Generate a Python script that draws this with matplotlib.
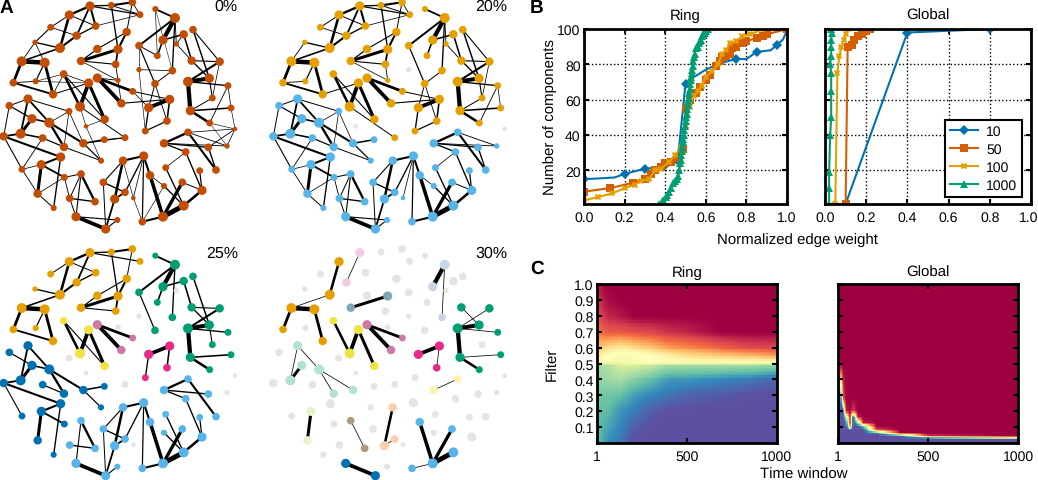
import numpy as np
import matplotlib

matplotlib.use("Agg")
import matplotlib.pyplot as plt
from matplotlib.transforms import ScaledTranslation

plt.rcParams["font.family"] = ["Liberation Sans", "DejaVu Sans"]
plt.rcParams["font.size"] = 9.9
plt.rcParams["text.hinting"] = "no_hinting"
plt.rcParams["text.hinting_factor"] = 1

W, H = 1038, 481

# ── network: one layout shared by all four panels (pixels of the 0% panel) ──
NODE_X = [270, 334, 397, 420, 208, 287, 152, 230, 380, 105, 180, 292, 354, 65, 134, 243, 347, 40, 107, 159,
          191, 266, 292, 354, 398, 364, 240, 314, 258, 375, 313, 250, 192, 303, 207, 148, 96, 84, 28, 62,
          11, 128, 182, 66, 124, 193, 243, 113, 209, 285, 161, 228, 317, 352, 310, 344, 375, 369, 431, 450,
          400, 427, 489, 492, 497, 547, 551, 606, 599, 648, 557, 492, 564, 625, 681, 705, 629, 571, 693, 684,
          637, 564, 628, 659, 575, 529, 551, 579, 489, 525, 466, 417, 472, 417, 517, 465, 509, 446, 501, 436]
NODE_Y = [21, 19, 10, 47, 48, 81, 85, 110, 99, 130, 147, 150, 151, 187, 191, 186, 196, 251, 247, 286,
          225, 252, 237, 244, 277, 313, 323, 361, 382, 416, 422, 433, 444, 485, 337, 371, 359, 300, 320, 404,
          412, 417, 474, 511, 497, 535, 525, 584, 598, 608, 627, 653, 690, 663, 550, 600, 580, 485, 471, 529,
          597, 668, 653, 561, 506, 550, 620, 574, 515, 513, 459, 433, 400, 445, 441, 390, 372, 335, 327, 260,
          297, 248, 238, 188, 185, 135, 106, 92, 123, 57, 30, 140, 170, 212, 215, 254, 301, 326, 366, 396]
NODE_R = [12, 9, 10, 9, 12, 10, 9, 11, 11, 7, 13, 11, 12, 13, 13, 11, 10, 10, 8, 11,
          10, 12, 12, 7, 9, 11, 13, 11, 6, 9, 9, 11, 11, 8, 9, 13, 12, 12, 10, 13,
          11, 10, 12, 9, 12, 9, 10, 11, 10, 10, 8, 12, 12, 8, 10, 12, 10, 11, 12, 11,
          6, 10, 13, 8, 9, 10, 13, 12, 9, 10, 10, 11, 10, 10, 7, 6, 9, 12, 9, 9,
          9, 13, 12, 11, 11, 7, 11, 10, 12, 13, 8, 10, 9, 7, 10, 10, 12, 12, 10, 9]

# edges by the highest threshold they survive: (node, node, width in px)
EDGES_30 = [(4, 10, 2.0), (10, 13, 1.2), (13, 14, 3.6), (13, 17, 2.2), (14, 19, 2.2), (0, 7, 1.4),
            (12, 15, 2.4), (20, 26, 2.0), (26, 21, 3.0), (21, 27, 2.4), (22, 24, 2.2), (22, 25, 3.0),
            (89, 88, 3.4), (89, 94, 1.0), (84, 82, 1.0), (83, 81, 1.6), (81, 82, 3.2), (81, 79, 1.0),
            (81, 77, 3.4), (77, 78, 1.2), (77, 76, 2.0), (97, 96, 3.0), (96, 98, 1.2), (37, 39, 1.4),
            (36, 39, 2.4), (37, 35, 1.4), (35, 32, 1.8), (35, 31, 1.6), (72, 71, 1.8), (44, 47, 2.4),
            (46, 49, 1.8), (57, 55, 2.0), (55, 56, 1.4), (59, 62, 2.8), (62, 65, 2.6), (62, 66, 4.0),
            (62, 61, 1.6), (51, 52, 3.0)]
EDGES_25 = [(0, 4, 1.8), (0, 1, 1.0), (0, 3, 0.9), (4, 5, 0.7), (4, 6, 0.7), (5, 7, 1.0), (7, 10, 1.6),
            (9, 10, 1.0), (14, 18, 0.9), (17, 19, 1.4), (15, 11, 0.9), (15, 16, 0.8), (11, 8, 0.8),
            (12, 8, 1.6), (12, 16, 1.4), (1, 12, 1.0), (1, 2, 1.6), (2, 8, 0.7), (20, 27, 0.8), (97, 99, 1.0),
            (89, 90, 1.4), (89, 91, 1.5), (88, 86, 1.2), (88, 92, 1.2), (86, 84, 1.2), (87, 82, 1.1),
            (84, 83, 0.8), (82, 80, 0.8), (91, 95, 0.9), (36, 35, 1.2), (38, 36, 0.9), (39, 40, 1.4),
            (31, 30, 1.2), (31, 33, 0.9), (40, 42, 1.6), (40, 43, 0.8), (41, 32, 0.9), (44, 42, 1.6),
            (44, 45, 1.4), (42, 50, 1.0), (57, 58, 1.6), (58, 59, 1.6), (58, 61, 0.9), (58, 56, 1.0),
            (57, 54, 0.8), (54, 56, 1.0), (54, 52, 0.7), (55, 52, 1.4), (52, 53, 0.8), (46, 51, 0.8),
            (48, 49, 1.0), (63, 66, 1.0), (64, 66, 1.0), (66, 67, 2.0), (67, 68, 0.9), (67, 70, 1.0),
            (71, 73, 1.0), (71, 70, 1.0), (72, 69, 1.6)]
EDGES_20 = [(0, 5, 1.6), (1, 3, 0.7), (2, 3, 0.6), (5, 3, 0.5), (6, 7, 0.6), (9, 13, 0.6), (17, 18, 0.6),
            (19, 21, 0.7), (15, 23, 0.5), (16, 23, 0.6), (26, 29, 0.7), (24, 96, 0.7), (25, 96, 0.8),
            (95, 97, 0.7), (95, 98, 0.6), (94, 95, 0.7), (98, 99, 0.9), (89, 85, 0.6), (85, 84, 0.6),
            (87, 83, 0.8), (83, 80, 0.5), (77, 80, 0.7), (76, 79, 0.6), (79, 78, 0.5), (37, 38, 0.7),
            (38, 40, 0.7), (39, 41, 1.2), (41, 43, 0.6), (43, 44, 0.5), (43, 47, 0.6), (37, 34, 0.7),
            (35, 34, 0.5), (34, 32, 0.5), (34, 31, 0.5), (32, 33, 0.7), (45, 46, 0.7), (45, 48, 0.6),
            (46, 48, 0.7), (47, 50, 0.7), (47, 45, 0.5), (48, 51, 0.7), (51, 53, 0.8), (58, 60, 0.5),
            (59, 63, 0.5), (64, 70, 0.5), (65, 67, 0.7), (71, 74, 0.6), (72, 74, 0.6), (73, 69, 1.0)]
EDGES_0 = [(6, 9, 0.8), (9, 14, 0.5), (18, 20, 0.4), (18, 21, 0.4), (19, 20, 0.5), (20, 21, 0.5),
           (22, 23, 0.6), (23, 25, 0.5), (26, 28, 0.4), (28, 27, 0.4), (28, 33, 0.4), (29, 30, 0.6),
           (31, 29, 0.7), (91, 92, 0.7), (91, 93, 0.4), (93, 94, 0.5), (93, 99, 0.4), (90, 92, 0.4),
           (90, 94, 0.3), (63, 61, 0.4), (60, 61, 0.4), (57, 60, 0.4), (75, 72, 0.5), (75, 73, 0.6),
           (75, 74, 0.5), (76, 75, 0.4), (74, 76, 0.3), (75, 78, 0.4), (24, 97, 0.5), (85, 86, 0.6)]

# edges the 30% panel draws thinner than the others
THIN_AT_30 = [(0, 7), (89, 94), (84, 82), (83, 81), (81, 79), (77, 78), (96, 98), (37, 39), (37, 35),
              (35, 32), (35, 31), (72, 71), (46, 49), (55, 56), (62, 61), (10, 13)]

PANEL_NAMES = ["0%", "20%", "25%", "30%"]
PANEL_DX = [0, 269.7, 0, 269.7]
PANEL_DY = [0, 0, 246.7, 246.7]
PANEL_EDGES = [EDGES_30 + EDGES_25 + EDGES_20 + EDGES_0,
               EDGES_30 + EDGES_25 + EDGES_20,
               EDGES_30 + EDGES_25,
               [(a, b, 0.5 if (a, b) in THIN_AT_30 else w) for a, b, w in EDGES_30]]

# component colours: colour -> one node of each component that wears it
PANEL_COLOURS = [
    {"#C24E05": [0]},
    {"#E69F00": [0, 89], "#56B4E9": [37, 58, 71]},
    {"#E69F00": [0], "#F0E442": [20], "#CC79A7": [22], "#E7298A": [97], "#009E73": [89, 81],
     "#0072B2": [37, 44], "#56B4E9": [58, 71]},
    {"#E69F00": [13], "#F4C9E4": [0], "#7FA6B6": [12], "#F0E442": [21], "#CC79A7": [22],
     "#CBD5E8": [89], "#009E73": [81], "#E7298A": [97], "#B3E2CD": [35], "#FFF2AE": [72],
     "#E6F5C9": [44], "#B09A7E": [46], "#FDCDAC": [55], "#56B4E9": [62], "#0072B2": [51]},
]
ISOLATED = "#E4E4E4"

# ── panel B ─────────────────────────────────────────────────────────────────
SERIES_NAMES = ["10", "50", "100", "1000"]
SERIES_COLOURS = ["#0072B2", "#D55E00", "#E69F00", "#009E73"]
SERIES_MARKERS = ["D", "s", "X", "^"]

RING_10_X = [0, .15, .2, .3, .35, .4, .46, .47, .5, .53, .6, .68, .75, .8, .85, .92, .95, .98, 1]
RING_10_Y = [15, 16, 18, 21, 21.5, 23, 26, 35, 69, 72, 77, 81, 83, 83, 87, 88, 91, 94, 99]
RING_10_MARK = [0, 2, 3, 5, 6, 8, 12, 14, 16]
RING_50_X = [0, .13, .24, .3, .33, .35, .38, .4, .43, .47, .49, .5, .52, .55, .57, .6, .62, .65, .67, .68, .7, .72, .73, .75, .78, .8, .85, .88, .9, 1]
RING_50_Y = [8, 10, 13, 15, 18, 20, 22, 24, 25, 27, 32, 55, 60, 64, 67, 71, 74, 79, 82, 84, 85, 86, 89, 90, 92, 93, 95, 96, 97, 100]
RING_100_X = [0, .07, .14, .2, .25, .28, .32, .35, .38, .42, .45, .48, .5, .52, .54, .56, .58, .6, .63, .66, .68, .7, .72, .75, .78, .82, .88]
RING_100_Y = [3, 5, 7, 10, 12, 14, 15, 20, 21, 25, 29, 33, 45, 56, 62, 65, 68, 73, 76, 80, 86, 88, 92, 93, 96, 97, 100]
RING_1000_X = [.37, .385, .39, .405, .41, .42, .43, .44, .45, .46, .465, .47, .475, .478, .48, .483, .485, .488, .49, .493,
               .495, .498, .5, .503, .505, .508, .51, .513, .515, .518, .52, .523, .525, .528, .53, .533, .535, .538, .54,
               .545, .55, .555, .56, .565, .57, .575, .58, .585, .59, .595, .6, .605, .61]
RING_1000_Y = [1, 2, 3, 5, 6, 8, 10, 13, 14, 15, 17, 20, 24, 26, 29, 31, 33, 36, 38, 40,
               43, 45, 48, 50, 52, 55, 57, 59, 61, 64, 66, 69, 71, 73, 75, 77, 79, 82, 84,
               86, 89, 90, 90, 92, 93, 94, 96, 97, 98, 98, 99, 100, 100]

GLOBAL_10_X = [0, .1, .4, .8, 1]
GLOBAL_10_Y = [1, 1, 98, 100, 100]
GLOBAL_10_MARK = [2, 3]
GLOBAL_50_X = [.1, .11, .13, .14, .16, .18, .2, .22]
GLOBAL_50_Y = [1, 90, 91, 94, 96, 97, 99, 100]
GLOBAL_100_X = [.05, .06, .07, .08, .09, .1, .11]
GLOBAL_100_Y = [1, 75, 85, 90, 94, 97, 100]
GLOBAL_1000_X = [.02, .02, .02, .025, .03, .03, .03, .025, .03, .03, .03, .035, .03]
GLOBAL_1000_Y = [1, 10, 19, 40, 50, 65, 75, 80, 85, 90, 94, 98, 100]

# ── panel C: fraction of components read by colour ──────────────────────────
RING_T = [1, 15, 60, 130, 200, 300, 400, 500, 700, 850, 1000]
RING_F = [0, .1, .2, .3, .4, .49, .51, .55, .6, .7, .8, .9, 1]
RING_VALUES = [
    [.20, .18, .11, .07, 0, 0, 0, 0, 0, 0, 0],
    [.20, .19, .15, .10, .03, 0, 0, 0, 0, 0, 0],
    [.20, .20, .19, .12, .09, .03, 0, 0, 0, 0, 0],
    [.22, .22, .22, .20, .14, .10, .07, .04, .02, 0, 0],
    [.25, .27, .28, .30, .25, .20, .13, .13, .10, .08, .04],
    [.26, .30, .32, .38, .38, .35, .30, .30, .30, .30, .28],
    [.60, .52, .46, .45, .48, .50, .50, .50, .50, .50, .50],
    [.65, .55, .50, .46, .47, .50, .55, .60, .65, .68, .72],
    [.72, .65, .60, .56, .60, .65, .72, .75, .82, .87, .88],
    [.76, .80, .84, .84, .86, .88, .92, .94, 1, 1, 1],
    [.78, .88, .94, .96, 1, 1, 1, 1, 1, 1, 1],
    [.80, .93, .98, 1, 1, 1, 1, 1, 1, 1, 1],
    [.82, .97, 1, 1, 1, 1, 1, 1, 1, 1, 1],
]
GLOBAL_T = [1, 12, 25, 45, 65, 83, 110, 140, 215, 345, 500, 1000]
GLOBAL_F = [0, .02, .03, .04, .05, .06, .08, .1, .125, .16, .2, .28, .48, .52, 1]
GLOBAL_VALUES = [
    [0, 0, 0, 0, 0, 0, 0, 0, 0, 0, 0, 0],
    [0, 0, 0, 0, 0, 0, 0, 0, 0, 0, 0, 0],
    [0, 0, 0, 0, 0, 0, 0, 0, 0, 0, .2, .5],
    [0, 0, 0, 0, 0, 0, 0, 0, 0, 0, .85, 1],
    [0, 0, 0, 0, 0, 0, 0, 0, 0, .5, 1, 1],
    [0, 0, 0, 0, 0, 0, 0, 0, .2, 1, 1, 1],
    [0, 0, 0, 0, 0, 0, 0, 0, .85, 1, 1, 1],
    [0, 0, 0, 0, .8, 0, 0, .2, 1, 1, 1, 1],
    [0, 0, 0, .1, 1, 0, .3, .95, 1, 1, 1, 1],
    [0, 0, 0, .35, 1, 0, .95, 1, 1, 1, 1, 1],
    [0, 0, 0, .95, 1, .9, 1, 1, 1, 1, 1, 1],
    [0, 0, .85, 1, 1, 1, 1, 1, 1, 1, 1, 1],
    [0, .95, 1, 1, 1, 1, 1, 1, 1, 1, 1, 1],
    [.95, 1, 1, 1, 1, 1, 1, 1, 1, 1, 1, 1],
    [1, 1, 1, 1, 1, 1, 1, 1, 1, 1, 1, 1],
]


def px_axes(fig, left, top, right, bottom):
    return fig.add_axes([left / W, 1 - bottom / H, (right - left) / W, (bottom - top) / H])


def components(edges):
    """Label of each node's connected component (smallest node index in it)."""
    label = list(range(len(NODE_X)))
    changed = True
    while changed:
        changed = False
        for a, b, _ in edges:
            low = min(label[a], label[b])
            if label[a] != low or label[b] != low:
                label[a] = label[b] = low
                changed = True
    return label


def resample(t, f, values, nt=150, nf=110):
    """Blend the read-off table in data space, so edges pass through the whole colormap."""
    table = np.array(values, dtype=float)
    grid_t = np.linspace(1, 1000, nt)
    grid_f = np.linspace(0, 1, nf)
    by_t = np.array([np.interp(grid_t, t, row) for row in table])
    return np.array([np.interp(grid_f, f, col) for col in by_t.T]).T


def style_box(ax):
    for spine in ax.spines.values():
        spine.set_linewidth(2.0)
    ax.tick_params(direction="in", top=True, right=True, width=1.5, length=3.5, labelsize=9.9)
    ax.tick_params(axis="x", pad=5)
    ax.tick_params(axis="y", pad=2.5)


fig = plt.figure(figsize=(W / 100, H / 100), dpi=100, facecolor="white")

# ── panel A: the four thresholded networks ──────────────────────────────────
net = fig.add_axes([0, 0, 1, 1])
net.set_xlim(0, W)
net.set_ylim(H, 0)
net.axis("off")

for name, dx, dy, edges, colours in zip(PANEL_NAMES, PANEL_DX, PANEL_DY, PANEL_EDGES, PANEL_COLOURS):
    xs = [x / 3 + dx for x in NODE_X]
    ys = [y / 3 + dy for y in NODE_Y]
    for a, b, width in edges:
        net.plot([xs[a], xs[b]], [ys[a], ys[b]], color="black", lw=(width * 1.2 + 0.15) * 0.72, zorder=1,
                 solid_capstyle="butt")
    label = components(edges)
    seeds = {label[node]: colour for colour, nodes in colours.items() for node in nodes}
    connected = {n for a, b, _ in edges for n in (a, b)}
    node_colours = [seeds.get(label[i], ISOLATED) if i in connected else ISOLATED for i in range(len(xs))]
    sizes = [(2.3 * r / 3 * 0.72) ** 2 for r in NODE_R]
    net.scatter(xs, ys, s=sizes, c=node_colours, linewidths=0, zorder=2)
    net.text(238 + dx, 7 + dy, name, ha="right", va="center", fontsize=11.8)

net.text(0, 8, "A", fontsize=14, fontweight="bold", va="center")
net.text(530, 8, "B", fontsize=14, fontweight="bold", va="center", ha="left")
net.text(530, 269, "C", fontsize=14, fontweight="bold", va="center", ha="left")

# ── panel B: component weight curves ────────────────────────────────────────
ring_ax = px_axes(fig, 584, 30, 787, 205)
global_ax = px_axes(fig, 825, 30, 1031, 205)

ring_series = [(RING_10_X, RING_10_Y, RING_10_MARK), (RING_50_X, RING_50_Y, None),
               (RING_100_X, RING_100_Y, None), (RING_1000_X, RING_1000_Y, None)]
global_series = [(GLOBAL_10_X, GLOBAL_10_Y, GLOBAL_10_MARK), (GLOBAL_50_X, GLOBAL_50_Y, None),
                 (GLOBAL_100_X, GLOBAL_100_Y, None), (GLOBAL_1000_X, GLOBAL_1000_Y, None)]

for ax, series, title in [(ring_ax, ring_series, "Ring"), (global_ax, global_series, "Global")]:
    for (x, y, mark), name, colour, marker in zip(series, SERIES_NAMES, SERIES_COLOURS, SERIES_MARKERS):
        ax.plot(x, y, color=colour, lw=1.5, marker=marker, ms=5.5 if marker != "X" else 4.5, mew=0,
                markevery=mark, label=name)
    ax.set_xlim(0, 1)
    ax.set_ylim(1, 100)
    ax.set_xticks([0, .2, .4, .6, .8, 1.0])
    ax.set_yticks([20, 40, 60, 80, 100])
    ax.grid(True, color="black", ls=":", lw=1.0)
    ax.set_axisbelow(True)
    ax.set_title(title, fontsize=10.5, pad=7)
    style_box(ax)

ring_ax.set_ylabel("Number of components", fontsize=10.6, labelpad=0)
global_ax.set_yticklabels([])
legend = global_ax.legend(loc="lower right", bbox_to_anchor=(0.956, 0.04), fontsize=9.9, fancybox=False,
                          framealpha=1, edgecolor="black", borderaxespad=0, handlelength=2.0,
                          handletextpad=0.6, labelspacing=0.36, borderpad=0.35)
legend.get_frame().set_linewidth(1.5)
fig.text(797 / W, 1 - 240 / H, "Normalized edge weight", ha="center", va="center", fontsize=10.6)

# keep the last tick label of the right-hand panel inside the picture
last = global_ax.get_xticklabels()[-1]
last.set_transform(last.get_transform() + ScaledTranslation(-2.5 / 100, 0, fig.dpi_scale_trans))

# ── panel C: heat maps ──────────────────────────────────────────────────────
ring_map = px_axes(fig, 597, 285, 777, 444)
global_map = px_axes(fig, 838, 285, 1018, 444)

for ax, t, f, values, title in [(ring_map, RING_T, RING_F, RING_VALUES, "Ring"),
                                (global_map, GLOBAL_T, GLOBAL_F, GLOBAL_VALUES, "Global")]:
    ax.imshow(resample(t, f, values), cmap="Spectral_r", vmin=0, vmax=1, origin="lower",
              extent=(1, 1000, 0, 1), aspect="auto", interpolation="nearest")
    ax.set_xlim(1, 1000)
    ax.set_ylim(0, 1)
    ax.set_xticks([1, 500, 1000])
    ax.set_yticks([.1, .2, .3, .4, .5, .6, .7, .8, .9, 1.0])
    ax.set_title(title, fontsize=10.5, pad=6)
    style_box(ax)

ring_map.set_ylabel("Filter", fontsize=10.6, labelpad=10)
global_map.set_yticklabels([])
fig.text(804 / W, 1 - 475 / H, "Time window", ha="center", va="center", fontsize=10.5)

fig.savefig("out.png", dpi=100, facecolor="white")
